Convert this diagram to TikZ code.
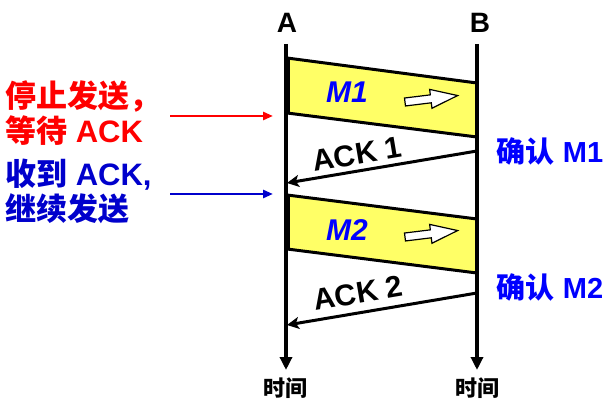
\documentclass[tikz,border=0pt]{standalone}
\usepackage{fontspec}
\setmainfont{Liberation Sans}
\newfontfamily\cjk{Noto Sans CJK SC}
\usetikzlibrary{arrows.meta}
\definecolor{myred}{RGB}{255,0,0}
\definecolor{myblue}{RGB}{0,0,204}
\definecolor{brblue}{RGB}{0,0,255}
\definecolor{myyellow}{RGB}{255,255,102}
\tikzset{
  timeline/.style={line width=4pt,-{Triangle[length=13pt,width=12pt]}},
  frame/.style={draw=black,line width=3pt,fill=myyellow,line join=miter},
  ackline/.style={line width=3pt,-{Stealth[length=12pt,width=12pt,inset=3pt]}},
  sidearrow/.style={line width=2.6pt,-{Triangle[length=10pt,width=8pt]}},
  lbl/.style={inner sep=0pt,font=\fontsize{29}{35}\selectfont\bfseries},
  leftlbl/.style={inner sep=0pt,font=\fontsize{31}{35}\selectfont\bfseries},
  endlbl/.style={inner sep=0pt,font=\fontsize{28}{32}\selectfont\bfseries},
  timelbl/.style={inner sep=0pt,font=\fontsize{22}{24}\selectfont\bfseries\cjk},
  msg/.style={inner sep=0pt,font=\fontsize{30}{32}\selectfont\bfseries\itshape,text=brblue},
  acklbl/.style={inner sep=0pt,font=\fontsize{30}{30}\selectfont\bfseries},
  whitearrow/.style={draw=black,fill=white,line width=1.2pt,line join=miter}
}
\begin{document}
\begin{tikzpicture}[x=1pt,y=-1pt]
\useasboundingbox (0,0) rectangle (611,406);
% frames
\coordinate (m1a) at (287,58); \coordinate (m1b) at (477,83);
\coordinate (m1c) at (477,137); \coordinate (m1d) at (287,113);
\coordinate (m2a) at (287,195); \coordinate (m2b) at (477,219);
\coordinate (m2c) at (477,273); \coordinate (m2d) at (287,249);
\path[frame] (m1a) -- (m1b) -- (m1c) -- (m1d) -- cycle;
\path[frame] (m2a) -- (m2b) -- (m2c) -- (m2d) -- cycle;
% time lines
\coordinate (At) at (286,44); \coordinate (Ab) at (286,370);
\coordinate (Bt) at (477,44); \coordinate (Bb) at (477,370);
\draw[timeline] (At) -- (Ab);
\draw[timeline] (Bt) -- (Bb);
\draw[line width=5pt] (m1a) -- (m1d);
\draw[line width=5pt] (m2a) -- (m2d);
\node[endlbl] (A) at (287,23) {A};
\node[endlbl] (B) at (480,23) {B};
\node[timelbl] (tA) at (285,388) {时间};
\node[timelbl] (tB) at (477,388) {时间};
% messages
\node[msg] (M1) at (347,92) {M1};
\node[msg] (M2) at (347,230) {M2};
\begin{scope}[shift={(405,102)},rotate=7]
\path[whitearrow] (0,-4) -- (26,-4) -- (26,-9.5) -- (53,0) -- (26,9.5) -- (26,4) -- (0,4) -- cycle;
\end{scope}
\begin{scope}[shift={(405,237)},rotate=7]
\path[whitearrow] (0,-4) -- (26,-4) -- (26,-9.5) -- (53,0) -- (26,9.5) -- (26,4) -- (0,4) -- cycle;
\end{scope}
% acks
\coordinate (k1s) at (477,151); \coordinate (k1e) at (287,183);
\coordinate (k2s) at (477,293); \coordinate (k2e) at (287,325);
\draw[ackline] (k1s) -- (k1e);
\draw[ackline] (k2s) -- (k2e);
\node[acklbl,rotate=9.6] (ack1) at (357,154) {ACK 1};
\node[acklbl,rotate=9.6] (ack2) at (358,293) {ACK 2};
\node[lbl,text=brblue] (c1) at (550,151) {{\cjk 确认} M1};
\node[lbl,text=brblue] (c2) at (550,287) {{\cjk 确认} M2};
% left labels
\node[leftlbl,text=myred,anchor=west,align=left] (stop) at (5,113) {{\cjk 停止发送，}\\{\cjk 等待} ACK};
\node[leftlbl,text=myblue,anchor=west,align=left] (recv) at (5,191) {{\cjk 收到} ACK,\\{\cjk 继续发送}};
\coordinate (r0) at (170,116); \coordinate (r1) at (273,116);
\coordinate (b0) at (170,194); \coordinate (b1) at (273,194);
\draw[sidearrow,myred] (r0) -- (r1);
\draw[sidearrow,myblue] (b0) -- (b1);
\end{tikzpicture}
\end{document}
